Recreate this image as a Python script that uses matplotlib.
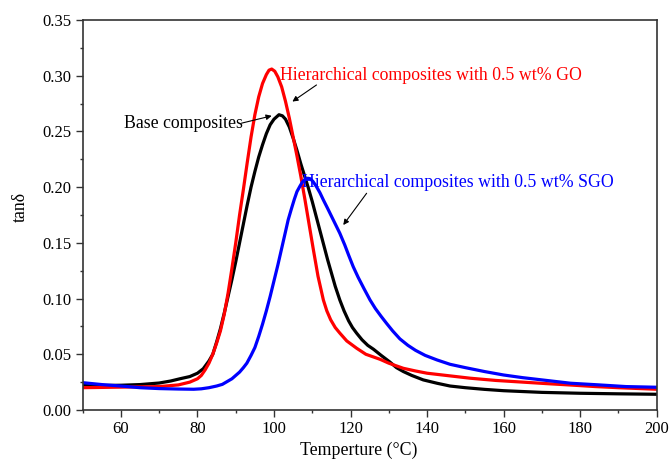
import numpy as np
import matplotlib
matplotlib.use("Agg")
import matplotlib.pyplot as plt
from matplotlib.ticker import MultipleLocator

plt.rcParams['font.family'] = ['Liberation Serif', 'DejaVu Serif']

# Base composites (black)
T_base = [50, 55, 60, 65, 70, 73, 75.4, 78, 80, 81.5, 83, 84, 85, 86, 87, 88, 89, 90, 91, 92,
          93, 94, 95, 96, 97, 98, 99, 100, 101.3, 102.2, 103, 104, 105, 106, 107, 108, 109,
          110, 111, 112, 113, 114, 115, 116, 117.2, 118.3, 119.5, 120.5, 121.6, 123, 124.5,
          126, 128, 130.3, 132, 133.8, 136, 139, 142.6, 146, 150, 155, 160, 170, 180, 190, 200]
tan_base = [0.0225, 0.022, 0.0222, 0.0228, 0.0242, 0.026, 0.028, 0.030, 0.033, 0.037, 0.044,
            0.050, 0.061, 0.073, 0.087, 0.102, 0.117, 0.133, 0.150, 0.167, 0.184, 0.200, 0.214,
            0.227, 0.238, 0.248, 0.256, 0.261, 0.265, 0.264, 0.261, 0.254, 0.244, 0.233, 0.221,
            0.210, 0.199, 0.187, 0.174, 0.161, 0.148, 0.135, 0.123, 0.111, 0.0987, 0.089, 0.080,
            0.074, 0.0689, 0.063, 0.058, 0.0545, 0.049, 0.043, 0.038, 0.0345, 0.031, 0.027,
            0.024, 0.0215, 0.020, 0.0185, 0.0173, 0.0158, 0.015, 0.0145, 0.0141]

# 0.5 wt% GO (red)
T_go = [50, 60, 70, 75, 78, 80, 81, 82, 83, 84, 85, 86, 87, 88, 89, 90, 91, 92, 93, 94, 95,
        96, 97, 98, 98.7, 99.4, 100.2, 101, 102, 103, 104, 105, 106, 107, 108.1, 109.2, 110.3,
        111.5, 112.9, 113.8, 114.8, 116, 117.2, 119, 121.6, 124, 127.7, 130, 133.8, 137, 140,
        145, 151.3, 158, 165, 171, 177.5, 184, 190, 200]
tan_go = [0.020, 0.0205, 0.021, 0.0225, 0.025, 0.028, 0.031, 0.036, 0.042, 0.050, 0.060, 0.071,
          0.086, 0.105, 0.127, 0.150, 0.175, 0.198, 0.222, 0.245, 0.265, 0.281, 0.293, 0.301,
          0.305, 0.306, 0.304, 0.299, 0.290, 0.277, 0.262, 0.245, 0.228, 0.210, 0.1885, 0.166,
          0.1436, 0.120, 0.0987, 0.089, 0.081, 0.074, 0.069, 0.062, 0.0554, 0.050, 0.0455,
          0.042, 0.0374, 0.035, 0.033, 0.031, 0.0285, 0.0265, 0.025, 0.0237, 0.0224, 0.021,
          0.020, 0.0186]

# 0.5 wt% SGO (blue)
T_sgo = [50, 55, 60, 65, 70, 75, 79, 81, 83, 85, 86.5, 88, 89, 90, 91, 92, 92.9, 94, 95, 96,
         97, 98, 99, 100, 101, 102, 103, 103.7, 104.5, 105.3, 106, 106.8, 107.5, 108.2, 108.8,
         109.5, 110.2, 111, 112, 112.9, 114, 115, 116, 117.2, 118.5, 119.5, 120.7, 122, 123.5,
         125.1, 126.5, 128, 129.4, 131, 132.9, 135, 137, 139.5, 142.6, 146, 150, 155, 160, 165,
         170, 177.5, 185, 192, 200]
tan_sgo = [0.0245, 0.0228, 0.0215, 0.020, 0.0192, 0.0188, 0.0186, 0.019, 0.020, 0.0215, 0.023,
           0.026, 0.028, 0.031, 0.034, 0.038, 0.042, 0.049, 0.056, 0.066, 0.077, 0.089, 0.102,
           0.116, 0.130, 0.145, 0.160, 0.1706, 0.180, 0.189, 0.196, 0.201, 0.205, 0.207, 0.208,
           0.2075, 0.205, 0.201, 0.195, 0.1885, 0.181, 0.174, 0.167, 0.1586, 0.148, 0.139,
           0.1286, 0.119, 0.109, 0.0987, 0.091, 0.084, 0.0778, 0.071, 0.0638, 0.058, 0.0535,
           0.049, 0.0449, 0.041, 0.038, 0.0345, 0.0314, 0.029, 0.027, 0.024, 0.0225, 0.021,
           0.0204]

fig = plt.figure(figsize=(6.7, 4.59), dpi=100)
ax = fig.add_axes([0.1234, 0.1068, 0.8567, 0.8496])

ax.plot(T_base, tan_base, '-', color='black', lw=2.3)
ax.plot(T_go, tan_go, '-', color='#ff0000', lw=2.3)
ax.plot(T_sgo, tan_sgo, '-', color='#0000ff', lw=2.3)

ax.set_xlim(50, 200)
ax.set_ylim(0, 0.35)
ax.xaxis.set_major_locator(MultipleLocator(20))
ax.xaxis.set_minor_locator(MultipleLocator(10))
ax.yaxis.set_major_locator(MultipleLocator(0.05))
ax.yaxis.set_minor_locator(MultipleLocator(0.025))
ax.yaxis.set_major_formatter(plt.FormatStrFormatter('%.2f'))
ax.tick_params(which='major', direction='out', length=5, width=1, labelsize=12, pad=3,
               color='#333333', top=False, right=False)
ax.tick_params(which='minor', direction='out', length=2.5, width=1, color='#333333',
               top=False, right=False)
for s in ax.spines.values():
    s.set_color('#333333')
    s.set_linewidth(1.2)

ax.set_xticks([60, 80, 100, 120, 140, 160, 180, 200])

ax.set_xlabel('Temperture (°C)', fontsize=12.8)
ax.xaxis.set_label_coords(0.48, -0.082)
ax.set_ylabel('tanδ', fontsize=12.8)
ax.yaxis.set_label_coords(-0.093, 0.52)

arrow = dict(arrowstyle='-|>', color='black', lw=0.8, mutation_scale=8, shrinkA=0, shrinkB=0)

ax.text(101.5, 0.300, 'Hierarchical composites with 0.5 wt% GO', color='#ff0000',
        fontsize=12.8, ha='left', va='center')
ax.annotate('', xy=(104.8, 0.2768), xytext=(111.1, 0.2917), arrowprops=arrow)

ax.text(91.9, 0.2567, 'Base composites', color='black', fontsize=12.8, ha='right', va='center')
ax.annotate('', xy=(99.4, 0.264), xytext=(91.5, 0.2574), arrowprops=arrow)

ax.text(107.3, 0.2038, 'Hierarchical composites with 0.5 wt% SGO', color='#0000ff',
        fontsize=12.8, ha='left', va='center')
ax.annotate('', xy=(118.1, 0.166), xytext=(124.2, 0.1945), arrowprops=arrow)

fig.savefig('out.png', dpi=100)
